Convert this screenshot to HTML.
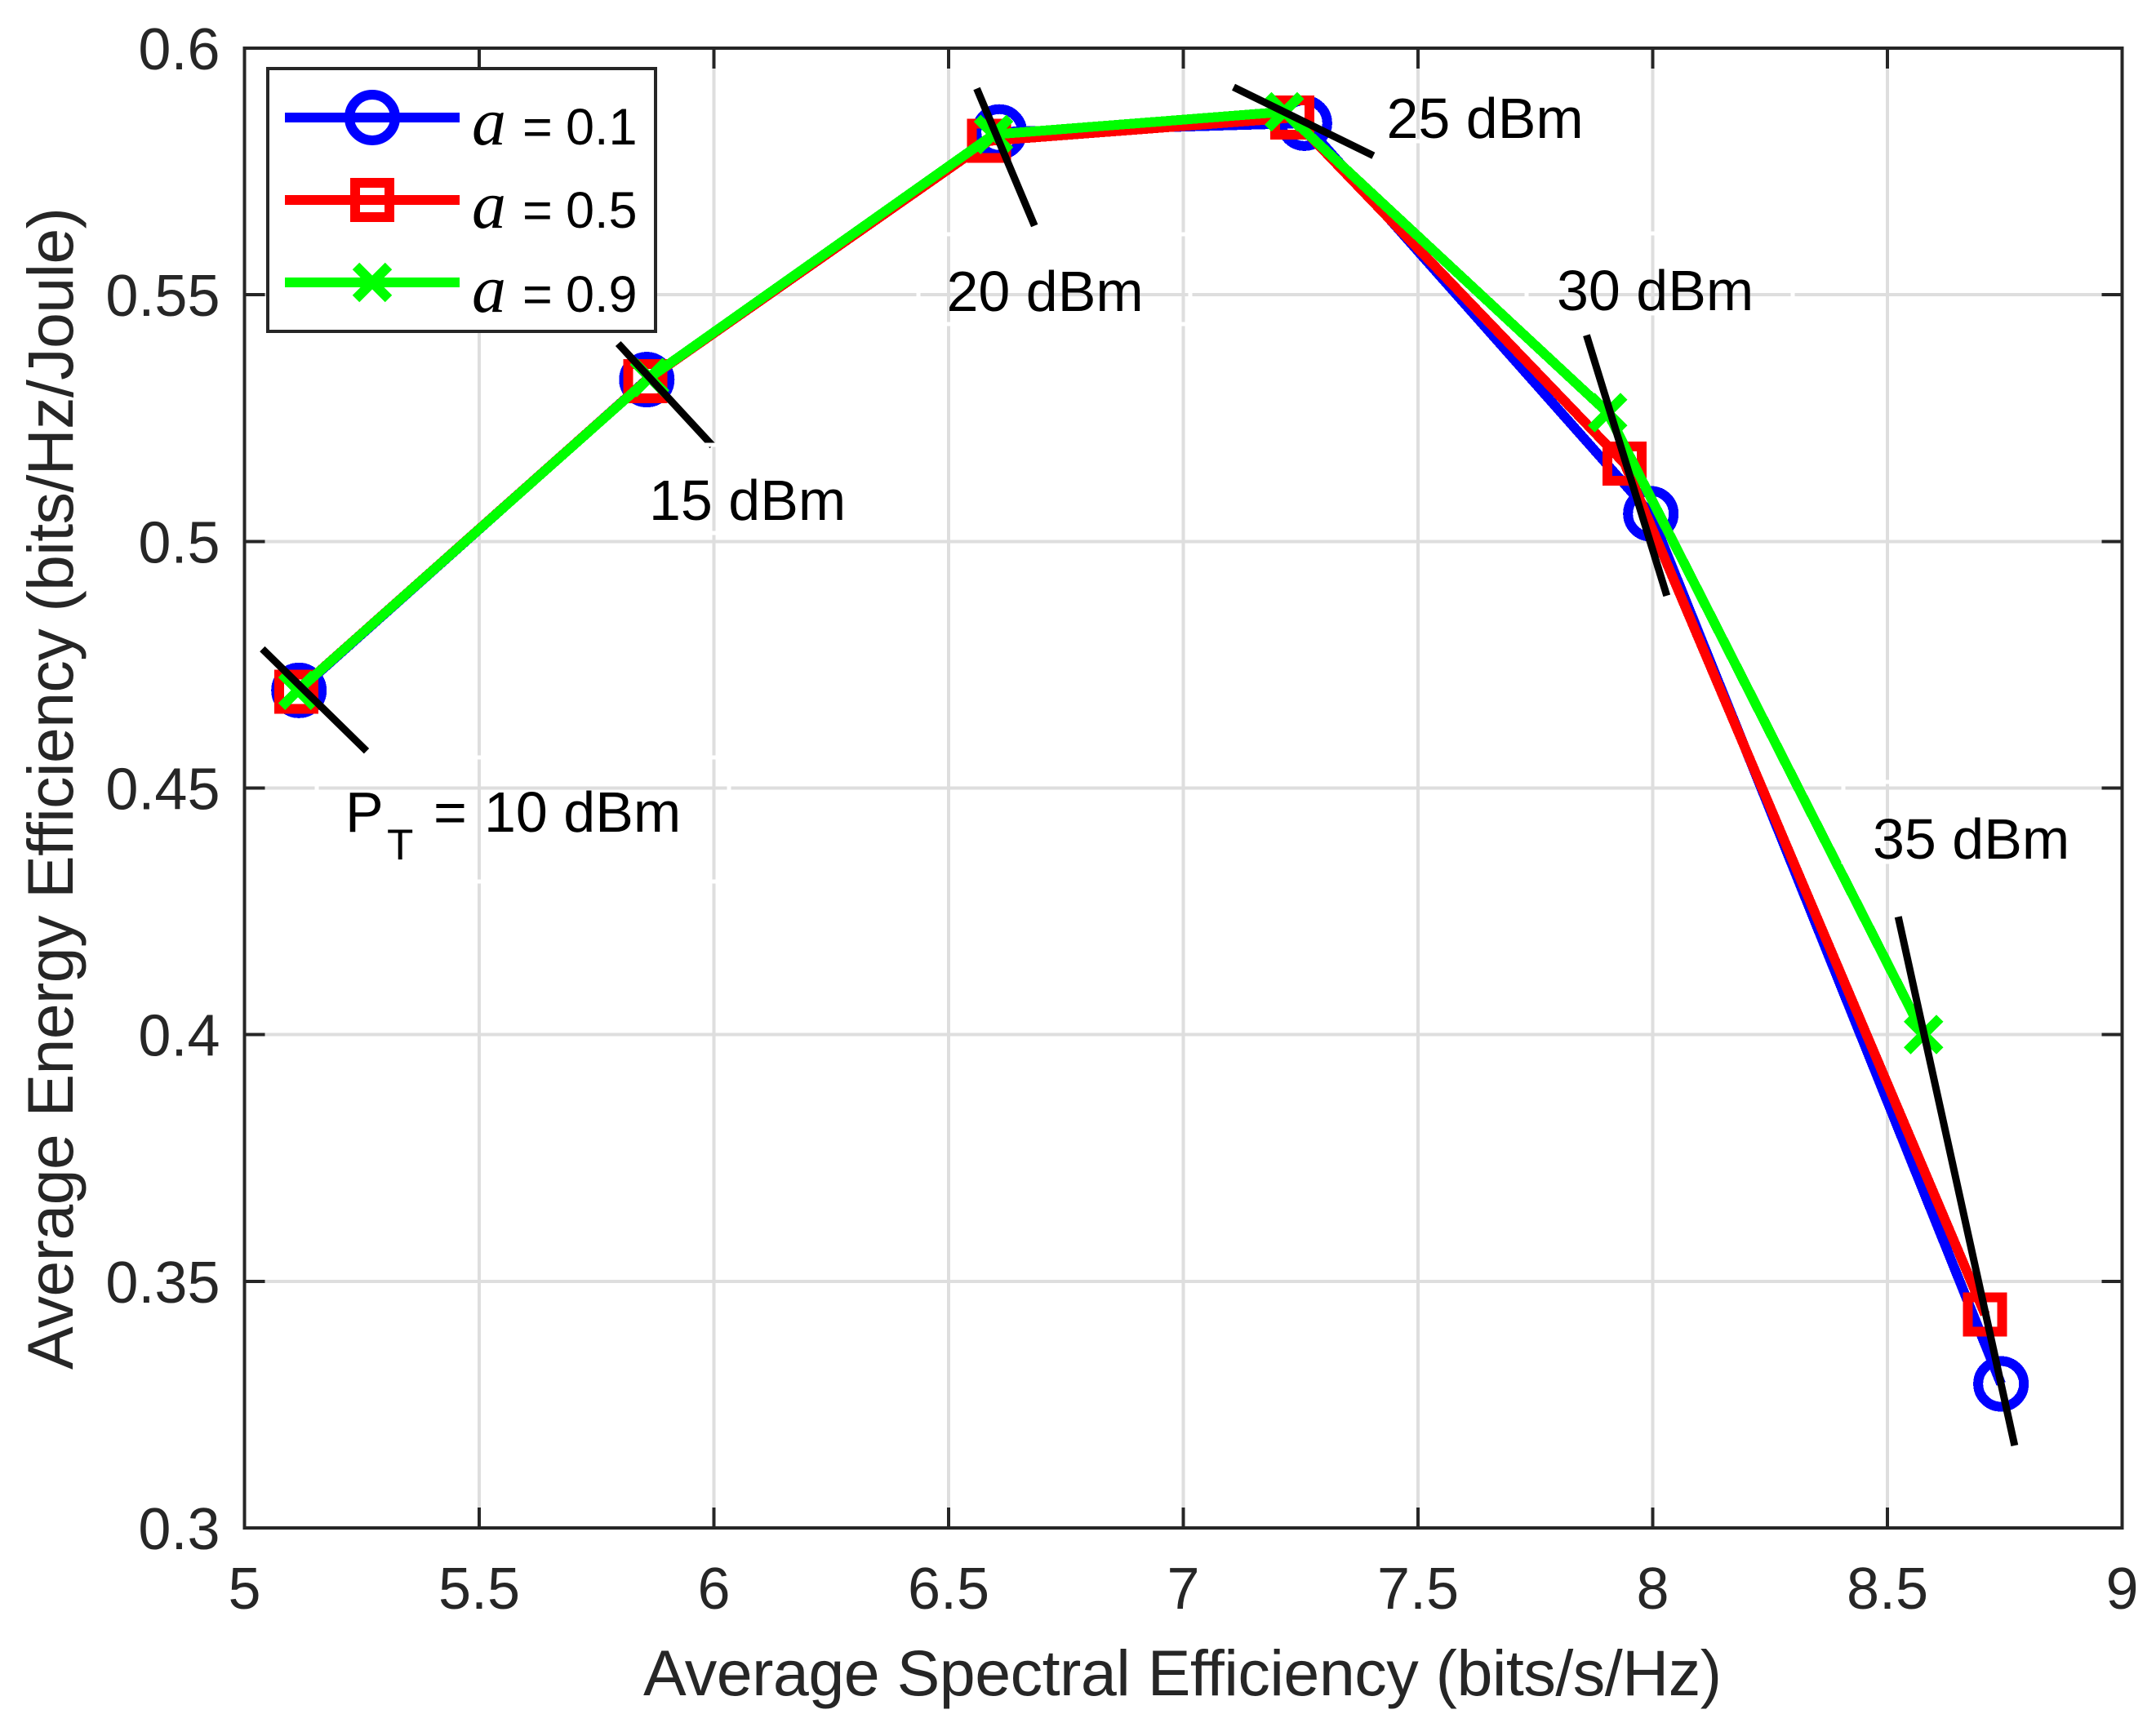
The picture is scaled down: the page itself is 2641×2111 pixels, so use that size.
<!DOCTYPE html>
<html lang="en">
<head>
<meta charset="utf-8">
<title>Average Energy Efficiency vs Average Spectral Efficiency</title>
<style>
html,body{margin:0;padding:0;background:#fff;}
svg{display:block;}
text{font-family:"Liberation Sans",Arial,sans-serif;}
.ann{font-size:70px;fill:#000;}
.leg{font-size:63px;fill:#000;}
.ital{font-family:"Liberation Serif","Times New Roman",serif;font-style:italic;font-size:84px;}
.title{font-size:79px;fill:#262626;}
.tick{font-size:72px;fill:#262626;}
</style>
</head>
<body>
<svg id="chart" xmlns="http://www.w3.org/2000/svg" width="2641" height="2111" viewBox="0 0 2641 2111">
  <rect x="0" y="0" width="2641" height="2111" fill="#fff"/>
  <g id="grid" shape-rendering="crispEdges"></g>
  <g id="series" shape-rendering="crispEdges"></g>
  <g id="pointers"></g>
  <g fill="none" stroke="#fff" stroke-width="5" shape-rendering="crispEdges">
    <rect x="388" y="928" width="505" height="152"/>
    <rect x="760" y="545" width="334" height="108"/>
    <rect x="1125" y="287" width="333" height="110"/>
    <rect x="1664" y="75" width="326" height="98"/>
    <rect x="1870" y="286" width="326" height="98"/>
    <rect x="2258" y="958" width="326" height="98"/>
  </g>
  <g id="axes" shape-rendering="crispEdges"></g>
  <g id="tick-labels"></g>

  <text class="title" x="1448.5" y="2077" text-anchor="middle" textLength="1321">Average Spectral Efficiency (bits/s/Hz)</text>
  <text class="title" transform="translate(89,966) rotate(-90)" x="0" y="0" text-anchor="middle" textLength="1424">Average Energy Efficiency (bits/Hz/Joule)</text>

  <g>
    <text class="ann" y="1019"><tspan x="423">P</tspan><tspan x="474" y="1053" font-size="53">T</tspan><tspan x="531" y="1019">=</tspan><tspan x="593" y="1019">10 dBm</tspan></text>
    <text class="ann" x="795" y="637">15 dBm</text>
    <text class="ann" x="1159.5" y="381">20 dBm</text>
    <text class="ann" x="1698.5" y="169">25 dBm</text>
    <text class="ann" x="1907" y="380">30 dBm</text>
    <text class="ann" x="2294" y="1052">35 dBm</text>
  </g>

  <g>
    <rect x="328" y="84" width="475" height="322" fill="#fff" stroke="#262626" stroke-width="4" shape-rendering="crispEdges"/>
    <g>
      <line x1="349" y1="144" x2="563" y2="144" stroke="#0000ff" stroke-width="12" shape-rendering="crispEdges"/>
      <circle cx="456" cy="144" r="28" fill="none" stroke="#0000ff" stroke-width="12"/>
      <text class="leg" y="177"><tspan class="ital" x="578">a</tspan><tspan x="640">=</tspan><tspan x="693">0.1</tspan></text>
    </g>
    <g>
      <line x1="349" y1="245" x2="563" y2="245" stroke="#ff0000" stroke-width="12" shape-rendering="crispEdges"/>
      <rect x="435" y="224" width="42" height="42" fill="none" stroke="#ff0000" stroke-width="12" shape-rendering="crispEdges"/>
      <text class="leg" y="279"><tspan class="ital" x="578">a</tspan><tspan x="640">=</tspan><tspan x="693">0.5</tspan></text>
    </g>
    <g>
      <line x1="349" y1="346" x2="563" y2="346" stroke="#00ff00" stroke-width="12" shape-rendering="crispEdges"/>
      <path d="M436 326L476 366M436 366L476 326" fill="none" stroke="#00ff00" stroke-width="12"/>
      <text class="leg" y="382"><tspan class="ital" x="578">a</tspan><tspan x="640">=</tspan><tspan x="693">0.9</tspan></text>
    </g>
  </g>
</svg>

<script>
// Axis tick values and their printed labels
const xTicks = [5, 5.5, 6, 6.5, 7, 7.5, 8, 8.5, 9];
const xTickLabels = ['5', '5.5', '6', '6.5', '7', '7.5', '8', '8.5', '9'];
const yTicks = [0.3, 0.35, 0.4, 0.45, 0.5, 0.55, 0.6];
const yTickLabels = ['0.3', '0.35', '0.4', '0.45', '0.5', '0.55', '0.6'];

// Series values, one point per transmit power (10, 15, 20, 25, 30, 35 dBm)
const seriesA01X = [5.116, 5.857, 6.608, 7.258, 7.996, 8.742];
const seriesA01Y = [0.4698, 0.5328, 0.5830, 0.5848, 0.5056, 0.3292];
const seriesA05X = [5.110, 5.854, 6.586, 7.232, 7.940, 8.708];
const seriesA05Y = [0.4695, 0.5325, 0.5812, 0.5859, 0.5158, 0.3433];
const seriesA09X = [5.114, 5.863, 6.596, 7.215, 7.904, 8.577];
const seriesA09Y = [0.4698, 0.5332, 0.5825, 0.5871, 0.5261, 0.4000];

// Annotation pointer segments, in data units
const pointerStartX = [5.038, 5.796, 6.560, 7.107, 7.859, 8.523];
const pointerStartY = [0.4782, 0.5401, 0.5918, 0.5921, 0.5418, 0.4239];
const pointerEndX = [5.260, 5.997, 6.683, 7.405, 8.030, 8.771];
const pointerEndY = [0.4575, 0.5194, 0.5640, 0.5782, 0.4890, 0.3167];

const NS = 'http://www.w3.org/2000/svg';
const xMin = 5, xMax = 9, yMin = 0.3, yMax = 0.6;
const plotLeft = 299.5, plotRight = 2599.5, plotTop = 59, plotBottom = 1872;

function xScale(v) { return plotLeft + (v - xMin) / (xMax - xMin) * (plotRight - plotLeft); }
function yScale(v) { return plotBottom - (v - yMin) / (yMax - yMin) * (plotBottom - plotTop); }

function drawLine(parent, x1, y1, x2, y2, color, width) {
  const el = document.createElementNS(NS, 'line');
  el.setAttribute('x1', x1);
  el.setAttribute('y1', y1);
  el.setAttribute('x2', x2);
  el.setAttribute('y2', y2);
  el.setAttribute('stroke', color);
  el.setAttribute('stroke-width', width);
  parent.appendChild(el);
  return el;
}

const gridLayer = document.getElementById('grid');
const axesLayer = document.getElementById('axes');
const labelLayer = document.getElementById('tick-labels');
const seriesLayer = document.getElementById('series');
const pointerLayer = document.getElementById('pointers');

xTicks.forEach(function (t, i) {
  const px = xScale(t);
  if (t > xMin && t < xMax) {
    const gl = drawLine(gridLayer, px, plotTop, px, plotBottom, '#dedede', 4);
    
    
    const tb = drawLine(axesLayer, px, plotBottom, px, plotBottom - 25, '#262626', 4);
    
    
    const tt = drawLine(axesLayer, px, plotTop, px, plotTop + 25, '#262626', 4);
    
    
  }
  const label = document.createElementNS(NS, 'text');
  
  
  label.setAttribute('class', 'tick');
  label.setAttribute('x', px);
  label.setAttribute('y', 1971);
  label.setAttribute('text-anchor', 'middle');
  label.textContent = xTickLabels[i];
  labelLayer.appendChild(label);
});

yTicks.forEach(function (t, i) {
  const py = yScale(t);
  if (t > yMin && t < yMax) {
    const gl = drawLine(gridLayer, plotLeft, py, plotRight, py, '#dedede', 4);
    
    
    const tl = drawLine(axesLayer, plotLeft, py, plotLeft + 25, py, '#262626', 4);
    
    
    const tr = drawLine(axesLayer, plotRight, py, plotRight - 25, py, '#262626', 4);
    
    
  }
  const label = document.createElementNS(NS, 'text');
  
  
  label.setAttribute('class', 'tick');
  label.setAttribute('x', 269.5);
  label.setAttribute('y', py + 26);
  label.setAttribute('text-anchor', 'end');
  label.textContent = yTickLabels[i];
  labelLayer.appendChild(label);
});

const frame = document.createElementNS(NS, 'rect');


frame.setAttribute('x', plotLeft);
frame.setAttribute('y', plotTop);
frame.setAttribute('width', plotRight - plotLeft);
frame.setAttribute('height', plotBottom - plotTop);
frame.setAttribute('fill', 'none');
frame.setAttribute('stroke', '#262626');
frame.setAttribute('stroke-width', 4);
axesLayer.appendChild(frame);

function drawSeries(xs, ys, color, key, marker) {
  const g = document.createElementNS(NS, 'g');
  
  
  const line = document.createElementNS(NS, 'polyline');
  
  
  line.setAttribute('points', xs.map(function (v, i) { return xScale(v) + ',' + yScale(ys[i]); }).join(' '));
  line.setAttribute('fill', 'none');
  line.setAttribute('stroke', color);
  line.setAttribute('stroke-width', 12);
  line.setAttribute('stroke-linejoin', 'miter');
  g.appendChild(line);
  xs.forEach(function (v, i) {
    const cx = xScale(v), cy = yScale(ys[i]);
    let m;
    if (marker === 'circle') {
      m = document.createElementNS(NS, 'circle');
      m.setAttribute('cx', cx);
      m.setAttribute('cy', cy);
      m.setAttribute('r', 28);
    } else if (marker === 'square') {
      m = document.createElementNS(NS, 'rect');
      m.setAttribute('x', cx - 21);
      m.setAttribute('y', cy - 21);
      m.setAttribute('width', 42);
      m.setAttribute('height', 42);
    } else {
      m = document.createElementNS(NS, 'path');
      m.setAttribute('d', 'M' + (cx - 20) + ' ' + (cy - 20) + 'L' + (cx + 20) + ' ' + (cy + 20) +
        'M' + (cx - 20) + ' ' + (cy + 20) + 'L' + (cx + 20) + ' ' + (cy - 20));
    }
    
    
    m.setAttribute('fill', 'none');
    m.setAttribute('stroke', color);
    m.setAttribute('stroke-width', 12);
    g.appendChild(m);
  });
  seriesLayer.appendChild(g);
}

drawSeries(seriesA01X, seriesA01Y, '#0000ff', 'a-0-1', 'circle');
drawSeries(seriesA05X, seriesA05Y, '#ff0000', 'a-0-5', 'square');
drawSeries(seriesA09X, seriesA09Y, '#00ff00', 'a-0-9', 'cross');

pointerStartX.forEach(function (v, i) {
  const p = drawLine(pointerLayer, xScale(v), yScale(pointerStartY[i]), xScale(pointerEndX[i]), yScale(pointerEndY[i]), '#000', 9);
  
  
});
</script>
</body>
</html>
